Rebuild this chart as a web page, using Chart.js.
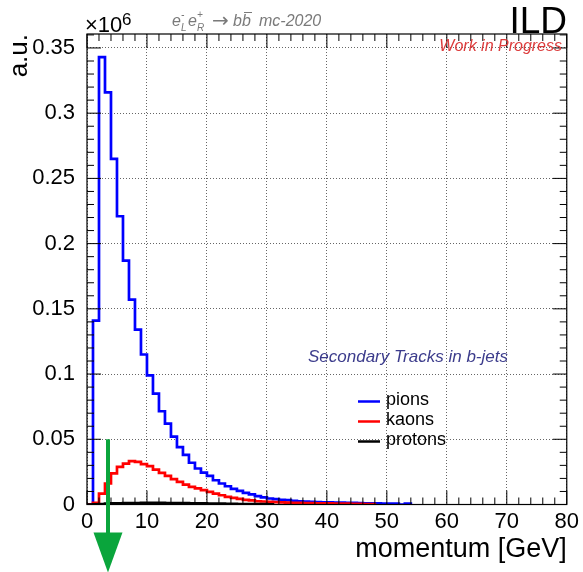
<!DOCTYPE html>
<html>
<head>
<meta charset="utf-8">
<script src="https://cdn.jsdelivr.net/npm/chart.js@4.4.1/dist/chart.umd.min.js"></script>
<style>
  html, body { margin: 0; padding: 0; background: #fff; }
  #wrap { width: 583px; height: 572px; }
</style>
</head>
<body>
<div id="wrap"><canvas id="momentumChart" width="583" height="572"></canvas></div>
<script>
// 1 GeV bins starting at 0 GeV, values in units of 10^6 (a.u.)
const binWidth = 1;
const pions = [
  0, 0.141, 0.343, 0.316, 0.265, 0.221, 0.187, 0.157, 0.134, 0.115,
  0.099, 0.085, 0.0715, 0.062, 0.052, 0.044, 0.038, 0.032, 0.0276, 0.0245,
  0.0219, 0.0186, 0.0161, 0.0140, 0.0120, 0.0104, 0.0089, 0.0077, 0.0064, 0.0054,
  0.0046, 0.0041, 0.0035, 0.0033, 0.0028, 0.0025, 0.0023, 0.0020, 0.0018, 0.0017,
  0.0016, 0.0015, 0.0014, 0.0013, 0.0012, 0.0011, 0.0009, 0.0008, 0.0008, 0.0007,
  0.0007, 0.0006, 0, 0.0006
];
const kaons = [
  0, 0.0012, 0.0084, 0.0161, 0.0238, 0.0288, 0.0314, 0.0332, 0.0327, 0.0309,
  0.0294, 0.0268, 0.0242, 0.0219, 0.0194, 0.0173, 0.0153, 0.0135, 0.0123, 0.0110,
  0.0097, 0.0084, 0.0071, 0.0058, 0.0051, 0.0043, 0.0035, 0.0031, 0.0025, 0.0023,
  0.0020, 0.0018, 0.0016, 0.0014, 0.0013, 0.0012, 0.0011, 0.0010, 0.0009, 0.0008,
  0.0008, 0.0007, 0.0006, 0.0006, 0.0005, 0.0005, 0.0004, 0.0004
];
const protons = [
  0, 0.0002, 0.0004, 0.0006, 0.0008, 0.0009, 0.0010, 0.0011, 0.0011, 0.0012,
  0.0012, 0.0013, 0.0012, 0.0011, 0.0010, 0.0010, 0.0011, 0.0009, 0.0008, 0.0008,
  0.0007, 0.0006, 0.0006, 0.0005, 0.0005, 0.0004, 0.0004, 0.0003, 0.0003, 0.0003,
  0.0002
];
const yTicks = [0, 0.05, 0.1, 0.15, 0.2, 0.25, 0.3, 0.35];
const xRange = [0, 80];
const yMax = 0.3607;

// cut marker (green arrow)
const cutMomentum = 3.5;
const cutTop = 0.05;

const FONT = "'Liberation Sans', Arial, Helvetica, sans-serif";
Chart.defaults.font.family = FONT;
Chart.defaults.color = '#000';

// histogram outline: one point per lower bin edge, closing at the last upper edge
function histPoints(values) {
  const pts = values.map((v, i) => ({ x: i * binWidth, y: v }));
  pts.push({ x: values.length * binWidth, y: 0 });
  return pts;
}

// ROOT-like decorations: frame, inward ticks, cut arrow, legend, labels
const rootStyle = {
  id: 'rootStyle',
  afterDraw(chart) {
    const ctx = chart.ctx;
    const { left, right, top, bottom } = chart.chartArea;
    const xs = chart.scales.x, ys = chart.scales.y;
    ctx.save();

    // frame
    ctx.strokeStyle = '#000';
    ctx.lineWidth = 1.2;
    ctx.strokeRect(left, top, right - left, bottom - top);

    // inward ticks on all four sides
    ctx.lineWidth = 1;
    ctx.beginPath();
    for (let v = xRange[0]; v <= xRange[1]; v += 2) {
      const px = xs.getPixelForValue(v);
      const len = v % 10 === 0 ? 14 : 7;
      ctx.moveTo(px, bottom); ctx.lineTo(px, bottom - len);
      ctx.moveTo(px, top); ctx.lineTo(px, top + len);
    }
    for (let i = 0; i <= 36; i++) {
      const v = i / 100;
      const py = ys.getPixelForValue(v);
      const len = i % 5 === 0 ? 14 : 7;
      ctx.moveTo(left, py); ctx.lineTo(left + len, py);
      ctx.moveTo(right, py); ctx.lineTo(right - len, py);
    }
    ctx.stroke();

    // green cut arrow
    const ax = xs.getPixelForValue(cutMomentum);
    const ay = ys.getPixelForValue(cutTop);
    ctx.strokeStyle = '#0aa53c';
    ctx.fillStyle = '#0aa53c';
    ctx.lineWidth = 4;
    ctx.beginPath();
    ctx.moveTo(ax, ay);
    ctx.lineTo(ax, bottom + 32);
    ctx.stroke();
    ctx.beginPath();
    ctx.moveTo(ax - 14.5, bottom + 28);
    ctx.lineTo(ax + 14.5, bottom + 28);
    ctx.lineTo(ax, bottom + 68);
    ctx.closePath();
    ctx.fill();

    // legend
    ctx.font = '18px ' + FONT;
    ctx.textBaseline = 'middle';
    ctx.textAlign = 'left';
    chart.data.datasets.forEach((ds, i) => {
      const ly = 401.5 + i * 20;
      ctx.strokeStyle = ds.borderColor;
      ctx.lineWidth = 2.5;
      ctx.beginPath();
      ctx.moveTo(358, ly);
      ctx.lineTo(380, ly);
      ctx.stroke();
      ctx.fillStyle = '#000';
      ctx.fillText(ds.label, 386, ly - 1);
    });

    ctx.textBaseline = 'alphabetic';

    // exponent
    ctx.fillStyle = '#000';
    ctx.font = '22px ' + FONT;
    ctx.fillText('\u00d710', 85, 32);
    ctx.font = '17px ' + FONT;
    ctx.fillText('6', 122, 25);

    // process label
    ctx.fillStyle = '#7a7a7a';
    ctx.strokeStyle = '#7a7a7a';
    ctx.font = 'italic 16px ' + FONT;
    ctx.fillText('e', 172, 26);
    ctx.font = 'italic 10px ' + FONT;
    ctx.fillText('-', 181, 18);
    ctx.fillText('L', 181, 31);
    ctx.font = 'italic 16px ' + FONT;
    ctx.fillText('e', 188, 26);
    ctx.font = 'italic 10px ' + FONT;
    ctx.fillText('+', 197, 18);
    ctx.fillText('R', 197, 31);
    ctx.font = "20px 'DejaVu Sans', sans-serif";
    ctx.textBaseline = 'middle';
    ctx.fillText('\u2192', 212, 21.5);
    ctx.textBaseline = 'alphabetic';
    ctx.font = 'italic 16px ' + FONT;
    ctx.fillText('b', 233, 26);
    ctx.fillText('b', 242, 26);
    ctx.lineWidth = 1;
    ctx.beginPath();
    ctx.moveTo(244, 12.5);
    ctx.lineTo(252, 12.5);
    ctx.stroke();
    ctx.fillText('mc-2020', 259, 26);

    // ILD
    ctx.fillStyle = '#000';
    ctx.textAlign = 'right';
    ctx.font = '37px ' + FONT;
    ctx.fillText('ILD', 567, 33);

    // Work in Progress
    ctx.fillStyle = '#dc3c3c';
    ctx.font = 'italic 16px ' + FONT;
    ctx.fillText('Work in Progress', 562, 51);

    // sample label
    ctx.textAlign = 'left';
    ctx.fillStyle = '#3c3c8c';
    ctx.font = 'italic 17px ' + FONT;
    ctx.fillText('Secondary Tracks in b-jets', 308, 362);

    ctx.restore();
  }
};

new Chart(document.getElementById('momentumChart'), {
  type: 'line',
  data: {
    datasets: [
      { label: 'pions', data: histPoints(pions), borderColor: '#0000ff', order: 2 },
      { label: 'kaons', data: histPoints(kaons), borderColor: '#ff0000', order: 1 },
      { label: 'protons', data: histPoints(protons), borderColor: '#000000', order: 0 }
    ]
  },
  options: {
    responsive: false,
    animation: false,
    events: [],
    layout: { padding: { top: 34, right: 16, left: 0, bottom: 0 } },
    elements: {
      line: { stepped: 'before', borderWidth: 2.7, fill: false, tension: 0 },
      point: { radius: 0 }
    },
    plugins: {
      legend: { display: false },
      tooltip: { enabled: false }
    },
    scales: {
      x: {
        type: 'linear',
        min: xRange[0],
        max: xRange[1],
        afterFit(scale) { scale.height = 67.5; },
        ticks: { stepSize: 10, autoSkip: false, maxRotation: 0, padding: 4, font: { size: 22 } },
        grid: { color: '#666', lineWidth: 1, drawTicks: false },
        border: { display: false, dash: [1, 2] },
        title: {
          display: true, text: 'momentum [GeV]', align: 'end',
          font: { size: 27 }, padding: { top: 0, bottom: 6 }
        }
      },
      y: {
        type: 'linear',
        min: 0,
        max: yMax,
        afterFit(scale) { scale.width = 87; },
        afterBuildTicks(scale) { scale.ticks = yTicks.map(v => ({ value: v })); },
        ticks: { padding: 12, font: { size: 22 }, callback: v => String(v) },
        grid: { color: '#666', lineWidth: 1, drawTicks: false },
        border: { display: false, dash: [1, 2] },
        title: {
          display: true, text: 'a.u.', align: 'end',
          font: { size: 26 }, padding: { top: 4, bottom: 0 }
        }
      }
    }
  },
  plugins: [rootStyle]
});
</script>
</body>
</html>
